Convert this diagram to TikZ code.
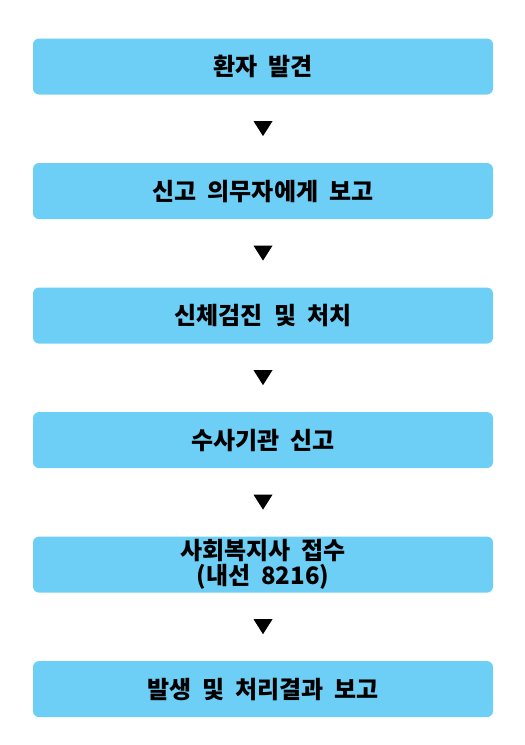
\documentclass[tikz,border=0pt]{standalone}
\usepackage{fontspec}
\setmainfont{Noto Sans CJK KR}[WordSpace=2.0]
\usetikzlibrary{positioning, shapes.geometric}
\definecolor{boxblue}{HTML}{6DCFF6}

\begin{document}
\begin{tikzpicture}[
		node distance=26.2pt,
		stage/.style={rectangle, rounded corners=6pt, fill=boxblue, minimum width=460pt, minimum height=56pt, inner sep=0pt, align=center, font=\fontsize{24}{25}\selectfont\bfseries},
		downtri/.style={isosceles triangle, isosceles triangle stretches, shape border rotate=-90, fill=black, inner sep=0pt, minimum width=19pt, minimum height=15pt}
	]
			\useasboundingbox (0,0) rectangle (525pt,-745pt);

			\node (find) [stage] at (263pt,-66.5pt) {환자 발견};
			\node (t1) [downtri, below=of find] {};
			\node (duty) [stage, below=of t1] {신고 의무자에게 보고};
			\node (t2) [downtri, below=of duty] {};
			\node (exam) [stage, below=of t2] {신체검진 및 처치};
			\node (t3) [downtri, below=of exam] {};
			\node (police) [stage, below=of t3] {수사기관 신고};
			\node (t4) [downtri, below=of police] {};
			\node (social) [stage, below=of t4] {사회복지사 접수\\(내선 8216)};
			\node (t5) [downtri, below=of social] {};
			\node (result) [stage, below=of t5] {발생 및 처리결과 보고};
		\end{tikzpicture}
\end{document}
